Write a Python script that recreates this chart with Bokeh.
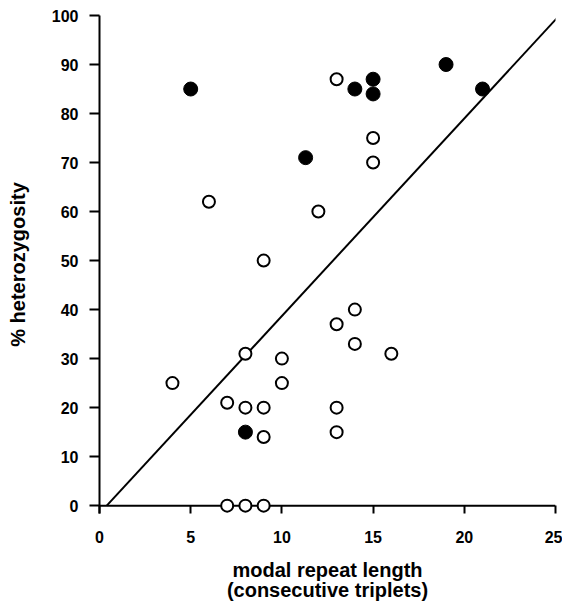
from bokeh.plotting import figure
from bokeh.models import Range1d, FixedTicker, Span
from bokeh.embed import file_html
from bokeh.resources import INLINE
import numpy as np

# Filled circles
filled_x = [5, 11.3, 14, 15, 15, 19, 21, 8]
filled_y = [85, 71, 85, 87, 84, 90, 85, 15]
# Open circles
open_x = [13, 15, 15, 12, 6, 9, 14, 13, 14, 16, 13, 13, 4, 8, 10, 10, 7, 8, 9, 9, 7, 8, 9]
open_y = [87, 75, 70, 60, 62, 50, 40, 37, 33, 31, 20, 15, 25, 31, 30, 25, 21, 20, 20, 14, 0, 0, 0]
# Regression line
slope = 4.03
intercept = -1.6

x_ticks = [0, 5, 10, 15, 20, 25]
y_ticks = [0, 10, 20, 30, 40, 50, 60, 70, 80, 90, 100]

FONT = "Liberation Sans"
Y_PAD = -1.6  # small room below zero so markers at 0 are not clipped

p = figure(width=562, height=610, output_backend="svg", toolbar_location=None,
           x_range=Range1d(0, 25), y_range=Range1d(Y_PAD, 100),
           min_border_left=99, min_border_right=7, min_border_top=15, min_border_bottom=97)
p.outline_line_color = None
p.xgrid.grid_line_color = None
p.ygrid.grid_line_color = None
p.background_fill_color = "white"
p.border_fill_color = "white"

# x axis line drawn at y = 0, beneath the markers
p.add_layout(Span(location=0, dimension="width", line_color="black",
                  line_width=2, level="underlay"))

# regression line from y=0 to the top of the range
y_line = np.array([0.0, p.y_range.end])
x_line = (y_line - intercept) / slope
p.line(x_line, y_line, line_color="black", line_width=2)

p.scatter(open_x, open_y, size=12, marker="circle", fill_color="white",
          line_color="black", line_width=2)
p.scatter(filled_x, filled_y, size=14, marker="circle", fill_color="black",
          line_color="black", line_width=1)

for ax in (p.xaxis[0], p.yaxis[0]):
    ax.axis_line_width = 2
    ax.axis_line_color = "black"
    ax.major_tick_line_width = 2
    ax.major_tick_line_color = "black"
    ax.minor_tick_line_color = None
    ax.major_label_text_font = FONT
    ax.major_label_text_font_style = "bold"
    ax.major_label_text_font_size = "16px"
    ax.major_label_text_color = "black"
    ax.axis_label_text_font = FONT
    ax.axis_label_text_font_style = "bold"
    ax.axis_label_text_font_size = "20px"
    ax.axis_label_text_color = "black"

p.yaxis.major_tick_in = 0
p.yaxis.major_tick_out = 10
p.xaxis.axis_line_color = None
p.xaxis.major_tick_in = 8
p.xaxis.major_tick_out = 0

p.xaxis.ticker = FixedTicker(ticks=x_ticks)
p.yaxis.ticker = FixedTicker(ticks=y_ticks)
p.xaxis.major_label_standoff = 17
p.yaxis.major_label_standoff = 11
p.xaxis.axis_label = "modal repeat length\n(consecutive triplets)"
p.xaxis.axis_label_text_line_height = 0.95
p.yaxis.axis_label = "% heterozygosity"
p.xaxis.axis_label_standoff = 13
p.yaxis.axis_label_standoff = 20

open("out.html", "w").write(file_html(p, INLINE))
